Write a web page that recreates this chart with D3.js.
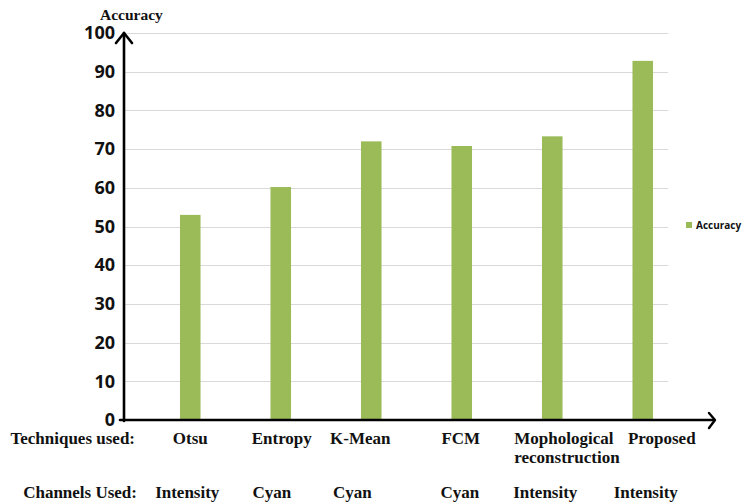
<!DOCTYPE html>
<html>
<head>
<meta charset="utf-8">
<script src="https://cdn.jsdelivr.net/npm/d3@7"></script>
<style>
  html, body { margin: 0; padding: 0; background: #fff; }
  svg { display: block; }
</style>
</head>
<body>
<svg id="chart" width="747" height="504"></svg>
<script>
// Segmentation techniques compared and their accuracy
const techniques = ["Otsu", "Entropy", "K-Mean", "FCM", "Mophological reconstruction", "Proposed"];
const channels = ["Intensity", "Cyan", "Cyan", "Cyan", "Intensity", "Intensity"];
const accuracy = [53, 60.2, 72, 70.8, 73.3, 92.8];
const yTicks = [0, 10, 20, 30, 40, 50, 60, 70, 80, 90, 100];
const seriesName = "Accuracy";

const svg = d3.select("#chart");

const axisX = 124;      // vertical axis position
const baseY = 420;      // horizontal axis position
const gridEnd = 668;

const y = d3.scaleLinear().domain([0, 100]).range([baseY, 33]);
const x = d3.scaleBand()
  .domain(techniques)
  .range([145, 688])
  .paddingInner(0.773)
  .paddingOuter(0.3865);

const green = "#9bbb59";
const serif = "'Liberation Serif', 'Times New Roman', serif";
const sans = "'Open Sans', 'Liberation Sans', sans-serif";

// gridlines
svg.append("g")
  .selectAll("line")
  .data(yTicks.filter(d => d > 0))
  .join("line")
  .attr("x1", axisX).attr("x2", gridEnd)
  .attr("y1", d => Math.round(y(d)) + 0.5)
  .attr("y2", d => Math.round(y(d)) + 0.5)
  .attr("stroke", "#d9d9d9")
  .attr("stroke-width", 1);

// bars
svg.append("g")
  .selectAll("rect")
  .data(techniques.map((t, i) => ({ t, v: accuracy[i] })))
  .join("rect")
  .attr("x", d => x(d.t))
  .attr("width", x.bandwidth())
  .attr("y", d => y(d.v))
  .attr("height", d => baseY - y(d.v))
  .attr("fill", green);

// y tick labels
const yAxis = d3.axisLeft(y).tickValues(yTicks).tickSize(0).tickPadding(9);
const gy = svg.append("g").attr("transform", `translate(${axisX},0)`).call(yAxis);
gy.select(".domain").remove();
gy.selectAll("text")
  .attr("font-family", sans)
  .attr("font-weight", "bold")
  .attr("font-size", 18)
  .attr("fill", "#111");

// axes with arrowheads
const axes = svg.append("g").attr("stroke", "#000").attr("fill", "none")
  .attr("stroke-linecap", "round").attr("stroke-linejoin", "round");
axes.append("line").attr("x1", axisX).attr("x2", axisX)
  .attr("y1", baseY + 1).attr("y2", 33).attr("stroke-width", 2.6);
axes.append("path").attr("d", `M${axisX - 8},${43} L${axisX},${33} L${axisX + 8},${43}`)
  .attr("stroke-width", 2.6);
axes.append("line").attr("x1", 120).attr("x2", 714)
  .attr("y1", baseY).attr("y2", baseY).attr("stroke-width", 2.6);
axes.append("path").attr("d", `M${709},${413} L${715},${baseY} L${709},${428}`)
  .attr("stroke-width", 2.4);

// y-axis title
svg.append("text")
  .attr("x", 100).attr("y", 20)
  .attr("font-family", serif).attr("font-weight", "bold").attr("font-size", 15.5)
  .attr("fill", "#111")
  .text(seriesName);

// legend
svg.append("rect").attr("x", 686).attr("y", 222).attr("width", 6).attr("height", 6).attr("fill", green);
svg.append("text").attr("x", 696).attr("y", 229)
  .attr("font-family", sans).attr("font-weight", "bold").attr("font-size", 10)
  .attr("fill", "#111").text(seriesName);

// category rows
const labelFont = sel => sel
  .attr("font-family", serif).attr("font-weight", "bold").attr("font-size", 17)
  .attr("fill", "#111");

svg.append("text").attr("x", 135).attr("y", 444).attr("text-anchor", "end")
  .call(labelFont).text("Techniques used:");
svg.append("text").attr("x", 137).attr("y", 498).attr("text-anchor", "end")
  .call(labelFont).text("Channels Used:");

// horizontal nudges of each label relative to its bar centre
const techDx = [0, 1, -11, -1, -38, 19];
const chanDx = [-3, -9, -19, -2, -7, 3];

const techG = svg.append("g");
techniques.forEach((t, i) => {
  const cx = x(t) + x.bandwidth() / 2 + techDx[i];
  const words = t.split(" ");
  const txt = techG.append("text").call(labelFont)
    .attr("text-anchor", words.length > 1 ? "start" : "middle")
    .attr("x", cx).attr("y", 444);
  words.forEach((w, k) => {
    txt.append("tspan").attr("x", cx).attr("dy", k === 0 ? 0 : 19).text(w);
  });
});

const chanG = svg.append("g");
channels.forEach((c, i) => {
  const t = techniques[i];
  chanG.append("text").call(labelFont)
    .attr("text-anchor", "middle")
    .attr("x", x(t) + x.bandwidth() / 2 + chanDx[i])
    .attr("y", 498)
    .text(c);
});
</script>
</body>
</html>
